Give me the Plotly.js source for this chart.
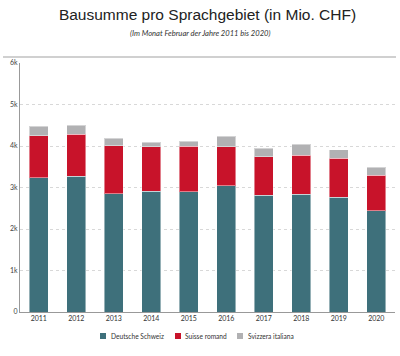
<!DOCTYPE html>
<html>
<head>
<meta charset="utf-8">
<script src="https://cdn.plot.ly/plotly-3.0.1.min.js"></script>
<style>html,body{margin:0;padding:0;background:#fff;}#chart{width:400px;height:356px;}</style>
</head>
<body>
<div id="chart"></div>
<script>
const years = ['2011','2012','2013','2014','2015','2016','2017','2018','2019','2020'];
const deutscheSchweiz = [3236, 3270, 2851, 2908, 2899, 3043, 2819, 2836, 2771, 2441];
const suisseRomand = [1012, 1019, 1156, 1075, 1101, 940, 923, 947, 932, 860];
const svizzeraItaliana = [234, 217, 179, 113, 113, 250, 202, 257, 208, 186];
const seriesNames = ['Deutsche Schweiz', 'Suisse romand', 'Svizzera italiana'];
const yTickVals = [0, 1000, 2000, 3000, 4000, 5000, 6000];
const yTickText = ['0', '1k', '2k', '3k', '4k', '5k', '6k'];

const colors = ['#3e707b', '#c8132a', '#b1b1b3'];
const values = [deutscheSchweiz, suisseRomand, svizzeraItaliana];
const traces = values.map((v, i) => ({
  type: 'bar',
  x: years,
  y: v,
  name: seriesNames[i],
  marker: {color: colors[i], line: {color: 'rgba(255,255,255,0.45)', width: 1}},
  hoverinfo: 'x+y+name'
}));

// plot area in pixels: x 20..395, y 63..312
const px = x => (x - 20) / 375;
const py = y => (312 - y) / 249;

// custom compact legend (box left px, text left px)
const legendBoxX = [100, 175, 237];
const legendTextX = [109, 183, 246];
const legendY = 336;

const annotations = [{
  text: '<i>(Im Monat Februar der Jahre 2011 bis 2020)</i>',
  xref: 'paper', yref: 'paper',
  x: px(200), y: py(33),
  xanchor: 'center', yanchor: 'middle',
  showarrow: false,
  font: {family: 'Lato, sans-serif', size: 7.6, color: '#333'}
}];
const shapes = [{
  type: 'line', xref: 'paper', yref: 'paper',
  x0: px(3), x1: px(396), y0: py(57), y1: py(57),
  line: {color: '#d0d0d0', width: 2}
}];
seriesNames.forEach((n, i) => {
  shapes.push({
    type: 'rect', xref: 'paper', yref: 'paper',
    x0: px(legendBoxX[i]), x1: px(legendBoxX[i] + 6),
    y0: py(legendY - 3), y1: py(legendY + 3),
    fillcolor: colors[i], line: {width: 0}
  });
  annotations.push({
    text: n, xref: 'paper', yref: 'paper',
    x: px(legendTextX[i]), y: py(legendY),
    xanchor: 'left', yanchor: 'middle', showarrow: false,
    font: {family: 'Lato, sans-serif', size: 6.6, color: '#333'}
  });
});

const layout = {
  width: 400, height: 356,
  barmode: 'stack',
  bargap: 0.5,
  margin: {l: 20, r: 5, t: 63, b: 44},
  paper_bgcolor: '#fff', plot_bgcolor: '#fff',
  title: {
    text: 'Bausumme pro Sprachgebiet (in Mio. CHF)',
    font: {family: 'Liberation Sans, Arial, sans-serif', size: 15.5, color: '#222', weight: 'normal'},
    x: 0.5, xanchor: 'center', xref: 'paper',
    y: 1 - 15/356, yanchor: 'middle', yref: 'container'
  },
  annotations: annotations,
  shapes: shapes,
  xaxis: {
    type: 'category',
    showline: true, linecolor: '#999', linewidth: 1,
    ticks: '', showgrid: false,
    tickfont: {family: 'Lato, sans-serif', size: 7, color: '#333'},
    fixedrange: true
  },
  yaxis: {
    range: [0, 6000],
    tickvals: yTickVals, ticktext: yTickText,
    showline: true, linecolor: '#999', linewidth: 1,
    showgrid: true, gridcolor: '#d8d8d8', griddash: 'dot', gridwidth: 1,
    zeroline: false,
    ticks: '', ticklen: 0,
    tickfont: {family: 'Lato, sans-serif', size: 7, color: '#444'},
    fixedrange: true
  },
  showlegend: false
};

Plotly.newPlot('chart', traces, layout, {displayModeBar: false, staticPlot: true});
</script>
</body>
</html>
